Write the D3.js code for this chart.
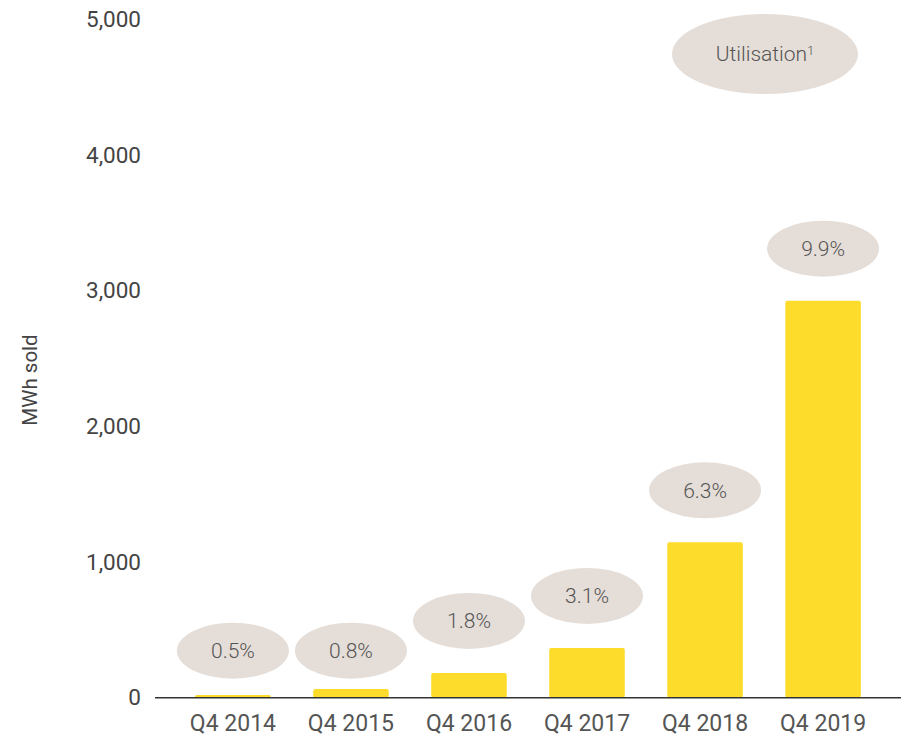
<!DOCTYPE html>
<html>
<head>
<meta charset="utf-8">
<script src="https://cdn.jsdelivr.net/npm/d3@7"></script>
<style>
  body { margin: 0; background: #fff; }
  svg text { font-family: Roboto, "Noto Sans", sans-serif; }
</style>
</head>
<body>
<div id="chart"></div>
<script>
// ============================================================================
// Data
// ============================================================================

const quarters    = ["Q4 2014", "Q4 2015", "Q4 2016", "Q4 2017", "Q4 2018", "Q4 2019"]
const mwhSold     = [12, 57, 175, 359, 1138, 2918]
const utilisation = ["0.5%", "0.8%", "1.8%", "3.1%", "6.3%", "9.9%"]
const yTicks      = [0, 1000, 2000, 3000, 4000, 5000]

// ============================================================================
// Setup
// ============================================================================

const width = 905, height = 736
const barColor = "#fddc2b"
const bubbleColor = "#e5ddd7"
const textColor = "#555"

const svg = d3.select("#chart")
  .append("svg")
  .attr("width", width)
  .attr("height", height)

const x = d3.scaleBand()
  .domain(quarters)
  .range([155, 901])
  .paddingInner(0.36)
  .paddingOuter(0.34)

const y = d3.scaleLinear()
  .domain([0, 5000])
  .range([697.7, 19.2])

// ============================================================================
// Y axis (labels only)
// ============================================================================

const yAxis = svg.append("g")
  .attr("transform", "translate(141,0)")
  .call(d3.axisLeft(y).tickValues(yTicks).tickSize(0).tickPadding(0)
    .tickFormat(d3.format(",")))

yAxis.attr("font-family", null)
yAxis.select(".domain").remove()
yAxis.selectAll("text")
  .attr("fill", "#444")
  .style("font-size", "22.5px")

svg.append("text")
  .attr("transform", "translate(37,380) rotate(-90)")
  .attr("text-anchor", "middle")
  .attr("fill", "#444")
  .style("font-size", "20.5px")
  .text("MWh sold")

// ============================================================================
// Bars
// ============================================================================

svg.append("g")
  .selectAll("rect")
  .data(quarters)
  .join("rect")
  .attr("x", d => x(d))
  .attr("width", x.bandwidth())
  .attr("y", (d, i) => y(mwhSold[i]) - 1)
  .attr("height", (d, i) => y(0) - y(mwhSold[i]) + 1)
  .attr("rx", 2)
  .attr("fill", barColor)

// ============================================================================
// X axis
// ============================================================================

const xAxis = svg.append("g")
  .attr("transform", `translate(0,${y(0)})`)
  .call(d3.axisBottom(x).tickSize(0).tickPadding(17))

xAxis.attr("font-family", null)
xAxis.select(".domain")
  .attr("stroke", "#333")
  .attr("stroke-width", 1.6)
  .attr("d", `M155,0H901`)
xAxis.selectAll("text")
  .attr("fill", textColor)
  .style("font-size", "23px")

// ============================================================================
// Utilisation bubbles
// ============================================================================

// Bubbles float above the bar; for very short bars they rest at a floor level
const bubbleY = i => (y(0) - y(mwhSold[i]) < 20)
  ? y(0) - 47
  : y(mwhSold[i]) - 53

const bubbles = svg.append("g")
  .selectAll("g")
  .data(quarters)
  .join("g")
  .attr("transform", (d, i) =>
    `translate(${x(d) + x.bandwidth() / 2},${bubbleY(i)})`)

bubbles.append("ellipse")
  .attr("rx", 56)
  .attr("ry", 28)
  .attr("fill", bubbleColor)

bubbles.append("text")
  .attr("text-anchor", "middle")
  .attr("dy", "0.35em")
  .attr("fill", textColor)
  .style("font-size", "21px")
  .style("font-weight", 300)
  .text((d, i) => utilisation[i])

// Legend bubble
const legend = svg.append("g")
  .attr("transform", "translate(765,54)")

legend.append("ellipse")
  .attr("rx", 93)
  .attr("ry", 40)
  .attr("fill", bubbleColor)

const legendText = legend.append("text")
  .attr("text-anchor", "middle")
  .attr("dy", "0.35em")
  .attr("fill", textColor)
  .style("font-size", "21px")
  .style("font-weight", 300)

legendText.append("tspan").text("Utilisation")
legendText.append("tspan")
  .attr("dy", "-0.5em")
  .style("font-size", "13px")
  .text("1")
</script>
</body>
</html>
